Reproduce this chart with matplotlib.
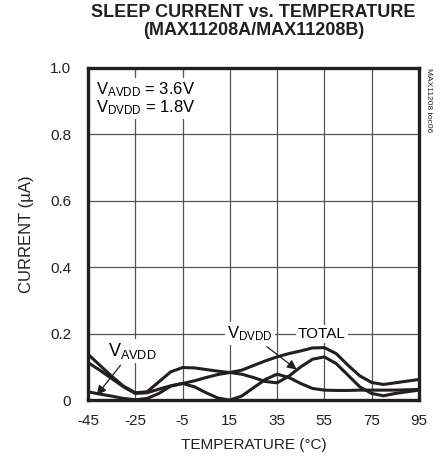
import numpy as np
import matplotlib
matplotlib.use("Agg")
import matplotlib.pyplot as plt

# Arial-like font
plt.rcParams["font.family"] = ["Liberation Sans", "DejaVu Sans"]
plt.rcParams["mathtext.fontset"] = "custom"
plt.rcParams["mathtext.rm"] = "Liberation Sans"
plt.rcParams["mathtext.it"] = "Liberation Sans"
plt.rcParams["axes.unicode_minus"] = False

# data (temperature in °C, current in µA)
temp = [-45, -40, -35, -30, -25, -20, -15, -10, -5, 0, 5, 10, 15, 20, 25,
        30, 35, 40, 45, 50, 55, 60, 65, 70, 75, 80, 85, 90, 95]
total = [0.138, 0.105, 0.072, 0.042, 0.022, 0.025, 0.055, 0.085, 0.098, 0.097,
         0.092, 0.087, 0.083, 0.090, 0.104, 0.118, 0.130, 0.140, 0.148, 0.157,
         0.158, 0.140, 0.105, 0.073, 0.053, 0.047, 0.052, 0.057, 0.062]
dvdd = [0.113, 0.090, 0.065, 0.040, 0.020, 0.022, 0.033, 0.043, 0.050, 0.058,
        0.068, 0.077, 0.083, 0.078, 0.068, 0.056, 0.052, 0.072, 0.100, 0.123,
        0.130, 0.110, 0.075, 0.040, 0.020, 0.013, 0.020, 0.025, 0.030]
avdd = [0.025, 0.018, 0.012, 0.005, 0.001, 0.005, 0.020, 0.042, 0.050, 0.040,
        0.022, 0.006, 0.000, 0.012, 0.037, 0.062, 0.078, 0.068, 0.050, 0.035,
        0.030, 0.029, 0.029, 0.030, 0.030, 0.030, 0.030, 0.031, 0.032]

xticks = [-45, -25, -5, 15, 35, 55, 75, 95]
yticks = [0, 0.2, 0.4, 0.6, 0.8, 1.0]
ytick_labels = ["0", "0.2", "0.4", "0.6", "0.8", "1.0"]

fig = plt.figure(figsize=(4.4, 4.62), dpi=100)
ax = fig.add_axes([0.2, 0.134, 0.752, 0.719])

for series in (total, dvdd, avdd):
    ax.plot(temp, series, color="#231f20", linewidth=2.2, solid_capstyle="round", zorder=3)

ax.set_xlim(-45, 95)
ax.set_ylim(0, 1.0)
ax.set_xticks(xticks)
ax.set_yticks(yticks)
ax.set_yticklabels(ytick_labels)
ax.tick_params(length=0, labelsize=11, colors="#231f20")
ax.tick_params(axis="x", pad=10)
ax.tick_params(axis="y", pad=12)
ax.grid(True, color="#555555", linewidth=0.9)
ax.set_axisbelow(True)
for sp in ax.spines.values():
    sp.set_linewidth(2.4)
    sp.set_color("#231f20")

ax.set_xlabel("TEMPERATURE (°C)", fontsize=11, labelpad=7, color="#231f20")
ax.set_ylabel("CURRENT (µA)", fontsize=12, labelpad=12, color="#231f20")

fig.text(0.576, 0.974, "SLEEP CURRENT vs. TEMPERATURE", ha="center", va="center",
         fontsize=13, fontweight="bold", color="#231f20")
fig.text(0.576, 0.933, "(MAX11208A/MAX11208B)", ha="center", va="center",
         fontsize=13, fontweight="bold", color="#231f20")

box = dict(facecolor="white", edgecolor="none", pad=1.5)
ax.text(-41.5, 0.935, r"$\mathregular{V_{AVDD}}$ = 3.6V", fontsize=12, va="center",
        ha="left", bbox=box, zorder=4)
ax.text(-41.5, 0.880, r"$\mathregular{V_{DVDD}}$ = 1.8V", fontsize=12, va="center",
        ha="left", bbox=box, zorder=4)

ax.annotate(r"$\mathregular{V_{AVDD}}$", xy=(-41.3, 0.015), xytext=(-26.4, 0.148),
            fontsize=13, ha="center", va="center", bbox=box, zorder=4,
            arrowprops=dict(arrowstyle="-|>", color="#231f20", lw=0.9,
                            mutation_scale=14, shrinkA=2, shrinkB=0))
ax.annotate(r"$\mathregular{V_{DVDD}}$", xy=(43.3, 0.092), xytext=(23.5, 0.2),
            fontsize=12, ha="center", va="center", bbox=box, zorder=4,
            arrowprops=dict(arrowstyle="-|>", color="#231f20", lw=0.9,
                            mutation_scale=14, shrinkA=2, shrinkB=0))
ax.text(54.0, 0.2, "TOTAL", fontsize=11, ha="center", va="center", bbox=box, zorder=4)

fig.text(0.973, 0.853, "MAX11208 toc06", rotation=270, ha="center", va="top",
         fontsize=6, color="#231f20")

fig.savefig("out.png", dpi=100)
